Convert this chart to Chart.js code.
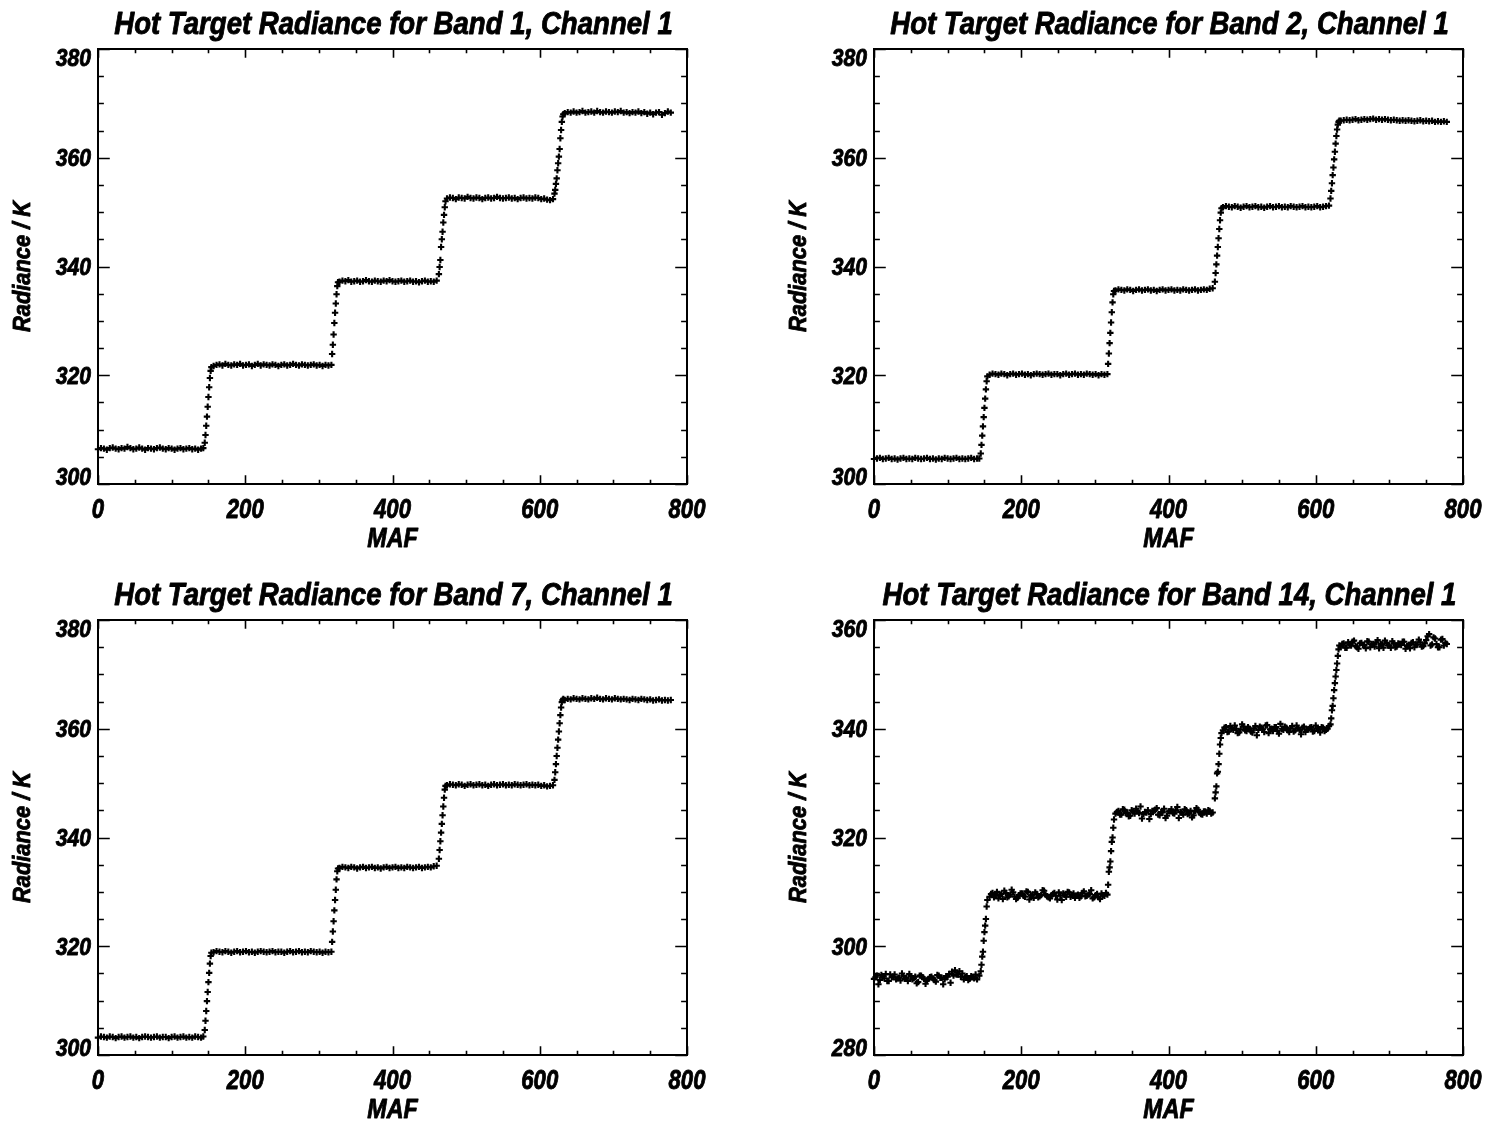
<!DOCTYPE html>
<html>
<head>
<meta charset="utf-8">
<title>Hot Target Radiance</title>
<script src="https://cdn.jsdelivr.net/npm/chart.js@4.4.1/dist/chart.umd.min.js"></script>
<style>
  body { margin: 0; background: #fff; }
  #page { position: relative; width: 1486px; height: 1123px; overflow: hidden; }
  #page canvas { position: absolute; }
</style>
</head>
<body>
<div id="page">
  <canvas id="band1" width="743" height="562" style="left:0;top:0"></canvas>
  <canvas id="band2" width="743" height="562" style="left:743px;top:0"></canvas>
  <canvas id="band7" width="743" height="561" style="left:0;top:562px"></canvas>
  <canvas id="band14" width="743" height="561" style="left:743px;top:562px"></canvas>
</div>
<script>
// MAF number of every sample (same frame sequence for all bands)
const maf = [
  0,4,8,12,16,20,24,28,32,36,40,44,48,52,56,60,64,68,72,76,80,84,88,92,96,100,104,108,112,116,120,124,128,132,136,140,143,
  145,146,147,148,149,150,151,152,153,154,
  157,161,165,169,173,177,181,185,189,193,197,201,205,209,213,217,221,225,229,233,237,241,245,249,253,257,261,265,269,273,277,281,285,289,293,297,301,305,309,313,317,
  318,319,320,321,322,323,324,325,326,
  328,332,336,340,344,348,352,356,360,364,368,372,376,380,384,388,392,396,400,404,408,412,416,420,424,428,432,436,440,444,448,452,456,460,
  463,464,465,466,467,468,469,470,471,472,
  474,478,482,486,490,494,498,502,506,510,514,518,522,526,530,534,538,542,546,550,554,558,562,566,570,574,578,582,586,590,594,598,602,606,610,614,618,
  620,621,622,623,624,625,626,627,628,629,630,631,632,
  634,638,642,646,650,654,658,662,666,670,674,678,682,686,690,694,698,702,706,710,714,718,722,726,730,734,738,742,746,750,754,758,762,766,770,774,778
];

// extra plateau frames in between, used for the noisy band 14
const mafMid = [
  2,6,10,14,18,22,26,30,34,38,42,46,50,54,58,62,66,70,74,78,82,86,90,94,98,102,106,110,114,118,122,126,130,134,138,
  159,163,167,171,175,179,183,187,191,195,199,203,207,211,215,219,223,227,231,235,239,243,247,251,255,259,263,267,271,275,279,283,287,291,295,299,303,307,311,315,
  330,334,338,342,346,350,354,358,362,366,370,374,378,382,386,390,394,398,402,406,410,414,418,422,426,430,434,438,442,446,450,454,458,
  476,480,484,488,492,496,500,504,508,512,516,520,524,528,532,536,540,544,548,552,556,560,564,568,572,576,580,584,588,592,596,600,604,608,612,616,
  636,640,644,648,652,656,660,664,668,672,676,680,684,688,692,696,700,704,708,712,716,720,724,728,732,736,740,744,748,752,756,760,764,768,772,776
];

// Hot target radiance (K), band 1 channel 1
const band1Rad = [
  306.4,306.6,306.5,306.3,306.6,306.7,306.5,306.4,306.6,306.5,306.8,306.6,306.4,306.5,306.7,306.5,306.3,306.6,306.5,306.4,
  306.6,306.7,306.5,306.4,306.6,306.5,306.3,306.5,306.6,306.4,306.5,306.6,306.4,306.5,306.3,306.5,306.6,
  307.6,309.0,310.7,312.4,314.2,316.0,317.8,319.5,320.8,321.5,
  321.7,321.9,322.0,321.8,322.1,321.9,321.8,322.0,321.9,322.1,321.8,321.9,322.0,321.7,321.9,322.1,321.8,322.0,321.9,321.8,
  322.0,321.9,321.7,321.9,322.0,321.8,321.9,322.1,321.9,321.8,322.0,321.9,321.8,321.9,322.0,321.8,321.9,321.7,321.9,321.8,321.9,
  323.9,325.6,327.5,329.6,331.5,333.2,334.9,336.4,337.1,
  337.2,337.4,337.3,337.5,337.2,337.3,337.4,337.2,337.3,337.5,337.3,337.2,337.4,337.3,337.2,337.4,337.3,337.5,337.3,337.2,
  337.3,337.4,337.2,337.3,337.4,337.2,337.3,337.1,337.3,337.4,337.2,337.3,337.2,337.4,
  338.6,339.9,341.2,343.6,345.0,346.4,348.1,349.5,350.9,352.0,
  352.5,352.7,352.6,352.4,352.7,352.6,352.5,352.8,352.6,352.5,352.7,352.6,352.4,352.6,352.7,352.5,352.6,352.8,352.6,352.5,
  352.6,352.7,352.5,352.6,352.4,352.6,352.7,352.5,352.6,352.5,352.7,352.6,352.4,352.5,352.3,352.2,352.4,
  353.4,354.1,355.2,356.2,357.7,359.0,360.2,361.6,363.6,365.1,366.6,367.6,368.0,
  368.2,368.4,368.3,368.5,368.3,368.4,368.6,368.3,368.4,368.5,368.3,368.6,368.4,368.3,368.5,368.4,368.3,368.5,368.4,368.6,
  368.3,368.4,368.2,368.4,368.3,368.5,368.2,368.4,368.1,368.3,368.0,368.3,368.4,367.9,368.2,368.5,368.3
];

// band 2 channel 1
const band2Rad = [
  304.6,304.7,304.8,304.6,304.7,304.8,304.6,304.7,304.5,304.7,304.8,304.6,304.7,304.6,304.8,304.7,304.6,304.7,304.8,304.6,
  304.7,304.5,304.7,304.6,304.8,304.7,304.6,304.7,304.8,304.6,304.7,304.6,304.7,304.8,304.6,304.7,304.7,
  305.6,307.2,308.9,310.6,312.3,314.0,315.7,317.4,318.9,319.8,
  320.1,320.3,320.2,320.1,320.3,320.2,320.0,320.2,320.3,320.1,320.2,320.3,320.1,320.2,320.0,320.2,320.3,320.2,320.1,320.2,
  320.3,320.1,320.2,320.2,320.0,320.2,320.3,320.1,320.2,320.3,320.1,320.2,320.1,320.3,320.2,320.1,320.2,320.0,320.2,320.1,320.2,
  322.1,324.0,325.9,327.8,329.7,331.6,333.4,334.9,335.5,
  335.6,335.8,335.7,335.6,335.8,335.7,335.5,335.7,335.8,335.6,335.7,335.8,335.6,335.7,335.5,335.7,335.8,335.6,335.7,335.8,
  335.6,335.7,335.6,335.8,335.7,335.6,335.7,335.8,335.6,335.7,335.8,335.7,335.9,336.0,
  337.2,338.8,340.4,342.0,343.6,345.2,346.9,348.5,349.9,350.7,
  350.9,351.1,351.0,350.9,351.1,351.0,350.8,351.0,351.1,350.9,351.0,351.1,350.9,351.0,350.8,351.0,351.1,350.9,351.0,351.1,
  350.9,351.0,350.9,351.1,351.0,350.9,351.0,351.1,350.9,351.0,350.9,351.0,351.1,350.9,351.0,351.1,351.2,
  352.5,353.9,355.3,356.8,358.2,359.7,361.1,362.6,364.0,365.2,366.1,366.6,366.8,
  366.8,366.9,367.0,366.9,367.0,367.1,366.9,367.0,367.1,367.0,367.1,367.2,367.0,367.1,367.0,367.1,367.0,366.9,367.0,366.9,
  366.8,366.9,366.8,366.9,366.8,366.7,366.8,366.9,366.7,366.8,366.7,366.8,366.6,366.7,366.6,366.7,366.6
];

// band 7 channel 1
const band7Rad = [
  303.2,303.4,303.3,303.2,303.4,303.3,303.1,303.3,303.4,303.2,303.3,303.4,303.2,303.3,303.1,303.3,303.4,303.3,303.2,303.3,
  303.4,303.2,303.3,303.3,303.1,303.3,303.4,303.2,303.3,303.4,303.2,303.3,303.2,303.4,303.3,303.2,303.4,
  304.6,306.3,308.1,309.9,311.6,313.4,315.1,316.8,318.2,318.8,
  318.9,319.1,319.0,318.9,319.1,319.0,318.8,319.0,319.1,318.9,319.0,319.1,318.9,319.0,318.8,319.0,319.1,319.0,318.9,319.0,
  319.1,318.9,319.0,319.0,318.8,319.0,319.1,318.9,319.0,319.1,318.9,319.0,318.9,319.1,319.0,318.9,319.0,318.8,319.0,318.9,319.0,
  320.8,322.7,324.6,326.6,328.5,330.4,332.3,333.8,334.3,
  334.4,334.6,334.5,334.4,334.6,334.5,334.3,334.5,334.6,334.4,334.5,334.6,334.4,334.5,334.3,334.5,334.6,334.4,334.5,334.6,
  334.4,334.5,334.4,334.6,334.5,334.4,334.5,334.6,334.4,334.5,334.6,334.5,334.7,334.8,
  336.1,337.7,339.3,340.9,342.5,344.1,345.7,347.3,348.8,349.5,
  349.6,349.8,349.7,349.6,349.8,349.7,349.5,349.7,349.8,349.6,349.7,349.8,349.6,349.7,349.5,349.7,349.8,349.6,349.7,349.8,
  349.6,349.7,349.6,349.8,349.7,349.6,349.7,349.8,349.6,349.7,349.6,349.7,349.5,349.6,349.4,349.5,349.6,
  350.6,352.0,353.5,355.0,356.5,358.0,359.5,361.0,362.5,363.9,364.9,365.3,365.5,
  365.3,365.5,365.4,365.6,365.5,365.4,365.6,365.5,365.4,365.6,365.5,365.7,365.5,365.4,365.6,365.5,365.4,365.6,365.5,365.4,
  365.5,365.4,365.3,365.5,365.4,365.3,365.5,365.4,365.3,365.4,365.2,365.3,365.4,365.2,365.3,365.2,365.3
];

// band 14 channel 1 (noisier)
const band14Rad = [
  294.0,294.6,293.8,294.5,294.9,293.6,294.3,294.8,294.1,293.7,294.5,294.2,294.9,293.9,294.4,293.4,294.6,294.0,293.7,294.3,
  294.1,293.5,294.6,294.2,293.9,294.4,293.3,294.6,294.8,295.4,295.0,294.3,293.8,294.5,294.1,293.9,294.6,
  295.4,296.6,298.1,299.0,301.0,302.6,303.8,305.0,307.3,308.5,
  309.1,309.8,309.3,308.8,309.6,310.2,309.0,309.5,309.9,308.7,309.4,309.7,309.1,310.0,309.3,308.9,309.6,309.2,310.3,309.5,
  309.0,309.4,309.8,308.6,309.3,309.7,309.1,309.9,309.4,308.9,309.5,309.2,310.1,309.3,309.6,308.8,309.4,309.0,309.7,309.3,309.5,
  311.3,313.7,314.5,315.6,317.5,319.2,320.0,321.8,323.3,
  324.4,324.9,324.2,325.1,324.6,324.0,324.8,325.3,324.5,323.5,324.7,325.0,324.3,324.9,325.4,324.1,324.6,323.6,324.8,325.2,
  324.4,325.6,324.7,324.2,325.0,324.5,323.7,324.9,325.1,324.3,324.8,324.4,324.9,324.6,
  327.2,328.3,329.4,331.8,332.1,333.5,335.4,337.1,338.3,339.2,
  339.7,340.3,339.5,340.1,340.6,339.2,339.9,340.4,339.6,340.0,339.3,340.5,339.8,340.2,339.4,340.7,339.9,339.6,340.3,339.1,
  340.0,340.4,339.7,340.1,339.5,340.6,339.8,340.2,339.4,339.9,340.3,339.6,340.0,339.3,340.2,339.8,340.5,
  340.8,341.9,343.4,344.2,345.6,347.1,348.4,349.6,350.8,352.0,353.4,354.6,355.3,
  355.1,355.7,354.9,355.5,356.0,355.2,354.7,355.8,355.4,356.1,355.0,355.6,355.9,354.8,355.5,356.2,355.3,354.9,355.7,355.1,
  355.6,356.0,354.7,355.4,355.8,355.0,355.5,355.9,355.2,356.3,357.4,355.5,356.6,355.0,356.4,355.3,355.6
];

// band 14 at the in-between frames
const band14RadMid = [
  294.3,293.0,294.7,294.1,293.6,294.8,294.4,293.9,294.2,295.0,294.0,293.6,294.5,294.1,293.2,294.6,294.3,293.1,294.0,294.4,
  293.8,294.7,294.2,293.0,294.5,294.9,295.3,295.6,294.8,294.4,293.9,294.5,294.0,294.3,294.8,
  309.6,309.0,310.0,309.4,308.7,309.8,309.2,310.4,309.1,308.9,309.7,309.3,310.1,308.6,309.5,309.9,309.0,309.4,310.2,309.2,
  308.8,309.6,309.3,309.9,308.5,309.4,310.0,309.1,309.7,309.3,308.9,309.8,309.2,309.5,310.3,309.0,309.6,308.7,309.4,309.8,
  324.7,324.2,325.2,324.5,323.9,325.0,324.4,324.8,325.7,324.3,324.6,323.4,324.9,325.1,324.2,324.7,325.3,324.0,324.8,324.5,
  325.0,323.6,324.6,325.2,324.3,324.9,324.1,325.4,324.6,324.2,324.8,325.0,324.4,
  340.2,339.4,340.5,339.8,340.0,339.3,340.8,339.7,340.3,339.5,340.1,338.8,340.4,339.9,340.6,339.2,340.0,340.3,339.6,340.9,
  339.8,340.2,339.4,340.5,339.7,340.1,339.0,340.4,339.8,340.2,339.5,340.6,339.9,340.3,339.6,340.0,
  355.6,354.9,355.9,355.3,356.2,355.0,355.7,355.4,354.8,356.0,355.5,355.1,356.3,355.6,354.9,355.8,355.3,356.1,355.0,355.7,
  355.4,356.0,355.2,354.8,355.9,355.5,356.4,355.1,355.7,357.0,355.3,356.8,355.6,355.0,356.5,355.8
];

// axis ticks
const xTickValues = [0, 200, 400, 600, 800];
const xTickLabels = ['0', '200', '400', '600', '800'];
const yTickValues = [300, 320, 340, 360, 380];
const yTickLabels = ['300', '320', '340', '360', '380'];
const yTickValues14 = [280, 300, 320, 340, 360];
const yTickLabels14 = ['280', '300', '320', '340', '360'];

const FONT = '"Liberation Sans", Arial, Helvetica, sans-serif';

// draws text squeezed horizontally, with a thin outline for a heavier face
function squeezeText(ctx, text, x, y, sx, angle) {
  ctx.save();
  ctx.translate(x, y);
  if (angle) ctx.rotate(angle);
  ctx.scale(sx, 1);
  ctx.lineWidth = 0.9;
  ctx.lineJoin = 'round';
  ctx.strokeText(text, 0, 0);
  ctx.fillText(text, 0, 0);
  ctx.restore();
}

// box frame with inward ticks on all four sides, labels and titles
const idlFrame = {
  id: 'idlFrame',
  afterDatasetsDraw(chart, args, opts) {
    const { ctx, chartArea: a } = chart;
    const xs = chart.scales.x, ys = chart.scales.y;
    const w = a.right - a.left, h = a.bottom - a.top;
    const xLen = h * 0.02, yLen = w * 0.02;

    ctx.save();
    ctx.strokeStyle = '#000';
    ctx.fillStyle = '#000';

    ctx.lineWidth = 1.6;
    ctx.beginPath();
    for (let v = xs.min; v <= xs.max; v += opts.xMinor) {
      const px = Math.round(xs.getPixelForValue(v)) + 0.5;
      const len = (v - xs.min) % opts.xMajor === 0 ? xLen : xLen / 2;
      ctx.moveTo(px, a.bottom); ctx.lineTo(px, a.bottom - len);
      ctx.moveTo(px, a.top); ctx.lineTo(px, a.top + len);
    }
    for (let v = ys.min; v <= ys.max; v += opts.yMinor) {
      const py = Math.round(ys.getPixelForValue(v)) + 0.5;
      const len = (v - ys.min) % opts.yMajor === 0 ? yLen : yLen / 2;
      ctx.moveTo(a.left, py); ctx.lineTo(a.left + len, py);
      ctx.moveTo(a.right, py); ctx.lineTo(a.right - len, py);
    }
    ctx.stroke();

    ctx.lineWidth = 2;
    ctx.strokeRect(a.left, a.top, w, h);

    // y tick labels, end labels kept inside the axis span
    ctx.font = 'bold italic 24px ' + FONT;
    ctx.textAlign = 'right';
    ctx.textBaseline = 'alphabetic';
    opts.yTicks.forEach((v, i) => {
      const py = ys.getPixelForValue(v);
      let base = py + 8.5;
      if (v === ys.max) base = py + 16.5;
      if (v === ys.min) base = py + 0.5;
      squeezeText(ctx, opts.yLabels[i], a.left - 7, base, 0.88);
    });

    // x tick labels
    ctx.font = 'bold italic 27px ' + FONT;
    ctx.textAlign = 'center';
    xTickValues.forEach((v, i) => {
      squeezeText(ctx, xTickLabels[i], xs.getPixelForValue(v), a.bottom + 34, 0.82);
    });

    // axis titles
    ctx.font = 'bold italic 27px ' + FONT;
    squeezeText(ctx, 'MAF', (a.left + a.right) / 2, a.bottom + 63, 0.86);
    ctx.font = 'bold italic 24px ' + FONT;
    squeezeText(ctx, 'Radiance / K', a.left - 68, (a.top + a.bottom) / 2, 0.91, -Math.PI / 2);

    // plot title
    ctx.font = 'bold italic 31px ' + FONT;
    squeezeText(ctx, opts.title, (a.left + a.right) / 2 + 1, a.top - 15, 0.89);

    ctx.restore();
  }
};

function crossSeries(xVals, yVals) {
  return {
    data: xVals.map((m, i) => ({ x: m, y: yVals[i] })),
    pointStyle: 'cross',
    pointRadius: 3.2,
    pointBorderWidth: 2.1,
    borderColor: '#000',
    backgroundColor: '#000',
    clip: false
  };
}

function makePanel(canvasId, title, datasets, yMin, yMax, yTicks, yLabels, padding) {
  return new Chart(document.getElementById(canvasId), {
    type: 'scatter',
    data: { datasets: datasets },
    options: {
      responsive: false,
      animation: false,
      events: [],
      layout: { padding: padding, autoPadding: false },
      scales: {
        x: { type: 'linear', min: 0, max: 800, display: false },
        y: { type: 'linear', min: yMin, max: yMax, display: false }
      },
      plugins: {
        legend: { display: false },
        tooltip: { enabled: false },
        idlFrame: {
          title: title,
          yTicks: yTicks,
          yLabels: yLabels,
          xMajor: 200, xMinor: 50,
          yMajor: 20, yMinor: 5
        }
      }
    },
    plugins: [idlFrame]
  });
}

makePanel('band1', 'Hot Target Radiance for Band 1, Channel 1',
  [crossSeries(maf, band1Rad)], 300, 380,
  yTickValues, yTickLabels, { left: 98, top: 49, right: 56, bottom: 78 });
makePanel('band2', 'Hot Target Radiance for Band 2, Channel 1',
  [crossSeries(maf, band2Rad)], 300, 380,
  yTickValues, yTickLabels, { left: 131, top: 49, right: 23, bottom: 78 });
makePanel('band7', 'Hot Target Radiance for Band 7, Channel 1',
  [crossSeries(maf, band7Rad)], 300, 380,
  yTickValues, yTickLabels, { left: 98, top: 58, right: 56, bottom: 68 });
makePanel('band14', 'Hot Target Radiance for Band 14, Channel 1',
  [crossSeries(maf, band14Rad), crossSeries(mafMid, band14RadMid)], 280, 360,
  yTickValues14, yTickLabels14, { left: 131, top: 58, right: 23, bottom: 68 });
</script>
</body>
</html>
